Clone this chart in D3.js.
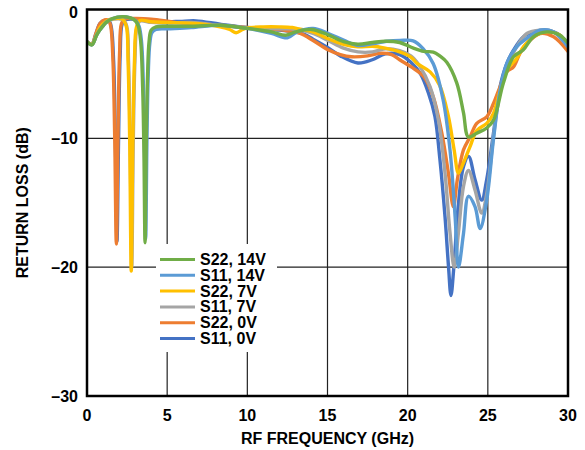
<!DOCTYPE html>
<html>
<head>
<meta charset="utf-8">
<script src="https://cdn.jsdelivr.net/npm/d3@7"></script>
<style>
  body { margin: 0; background: #fff; }
  text { font-family: "Liberation Sans", Arial, sans-serif; font-weight: bold; fill: #000; }
</style>
</head>
<body>
<script>
// Series data: [frequency GHz, return loss dB]
var s11_0V = [[0,-2.5],[0.3,-2.7],[0.55,-1.9],[0.8,-1.1],[1.1,-0.85],[1.38,-0.9],[1.52,-1.4],[1.66,-4],[1.77,-10],[1.87,-18.0],[1.97,-10],[2.07,-3.5],[2.2,-1.1],[2.4,-0.8],[3,-0.75],[4,-0.8],[5,-0.95],[5.8,-0.92],[6.8,-0.88],[8.3,-1.14],[10,-1.4],[11,-1.5],[12,-1.6],[12.7,-1.7],[13.3,-1.8],[14.1,-2.3],[15,-2.95],[15.8,-3.6],[16.9,-4.15],[17.8,-3.9],[18.6,-3.45],[19.5,-3.5],[20.2,-4.1],[20.8,-5.0],[21.3,-6.5],[21.7,-8.3],[22.0,-11.5],[22.33,-16.1],[22.55,-20],[22.7,-22.2],[22.88,-20],[23.15,-15.3],[23.48,-12.2],[23.8,-11.4],[24.2,-13.2],[24.62,-14.8],[24.93,-13.2],[25.35,-9.6],[25.76,-6.0],[26.18,-4.2],[26.6,-3.16],[27.22,-2.12],[27.84,-1.74],[28.68,-1.6],[29.5,-2.0],[30,-3.0]];
var s22_0V = [[0,-2.5],[0.3,-2.7],[0.55,-1.9],[0.8,-1.1],[1.1,-0.8],[1.35,-0.85],[1.48,-1.3],[1.62,-4],[1.73,-10],[1.83,-18.2],[1.93,-10],[2.03,-3.5],[2.15,-1.1],[2.35,-0.75],[3,-0.7],[4,-0.75],[5,-0.9],[5.8,-1.04],[7,-1.12],[8.3,-1.22],[10,-1.4],[11,-1.5],[12,-1.55],[12.7,-1.7],[13.3,-1.86],[14.1,-2.4],[15,-3.1],[15.8,-3.5],[16.5,-3.67],[17.5,-3.6],[18.3,-3.4],[19.0,-3.5],[19.5,-3.9],[20.4,-4.6],[21.0,-5.2],[21.6,-6.8],[22.13,-9.6],[22.54,-12.7],[22.85,-15.3],[23.1,-13.2],[23.48,-10.9],[23.89,-9.9],[24.31,-8.84],[24.93,-8.33],[25.35,-7.3],[25.76,-6.0],[26.18,-4.84],[26.6,-4.45],[27.0,-3.41],[27.43,-2.64],[28.26,-1.86],[29.1,-2.12],[30,-3.26]];
var s11_7V = [[0,-2.5],[0.3,-2.7],[0.6,-1.95],[0.8,-1.45],[1.2,-0.95],[1.7,-0.75],[2.25,-0.8],[2.48,-1.3],[2.59,-4],[2.69,-10],[2.79,-20.0],[2.89,-10],[2.99,-4],[3.11,-1.4],[3.3,-0.9],[4,-1.0],[5,-1.05],[6.5,-1.0],[8.3,-1.25],[10,-1.42],[11,-1.45],[12,-1.5],[12.7,-1.5],[13.3,-1.6],[14.1,-1.86],[15,-2.38],[16,-3.0],[16.9,-3.29],[17.8,-3.29],[18.6,-3.05],[19.5,-3.2],[20.2,-3.6],[20.7,-4.3],[21.4,-6.0],[21.92,-8.6],[22.33,-12.7],[22.64,-17.3],[22.9,-20.0],[23.17,-17.3],[23.48,-13.75],[23.79,-12.5],[24.2,-14.0],[24.62,-15.8],[24.93,-14.3],[25.35,-9.9],[25.76,-6.3],[26.18,-4.45],[26.8,-2.9],[27.43,-1.86],[28.26,-1.6],[29.1,-1.74],[30,-2.9]];
var s22_7V = [[0,-2.5],[0.3,-2.7],[0.6,-1.95],[0.8,-1.4],[1.2,-0.9],[1.7,-0.7],[2.2,-0.75],[2.45,-1.3],[2.56,-4],[2.66,-10],[2.76,-20.3],[2.86,-10],[2.96,-4],[3.08,-1.4],[3.3,-0.85],[4,-0.95],[5,-1.0],[7,-1.1],[8.3,-1.35],[8.9,-1.55],[9.3,-1.8],[9.7,-1.55],[10,-1.42],[11,-1.35],[12,-1.35],[12.8,-1.4],[13.3,-1.53],[14.1,-1.74],[15,-2.25],[16,-2.7],[16.9,-2.9],[17.8,-2.85],[18.6,-3.0],[19.5,-3.29],[20.2,-3.7],[20.6,-4.2],[21.4,-4.84],[22.0,-5.9],[22.54,-8.3],[22.9,-10.9],[23.17,-12.7],[23.48,-11.9],[23.89,-10.65],[24.31,-9.4],[24.93,-8.84],[25.35,-8.06],[25.76,-6.26],[26.18,-4.7],[26.8,-3.8],[27.22,-2.9],[27.84,-2.12],[28.68,-1.74],[29.5,-2.0],[30,-2.9]];
var s11_14V = [[0,-2.5],[0.3,-2.75],[0.6,-2.0],[0.8,-1.6],[1.2,-1.0],[1.6,-0.7],[2.2,-0.55],[2.7,-0.65],[3.05,-0.9],[3.25,-1.3],[3.4,-2.5],[3.52,-6],[3.59,-11],[3.66,-17.8],[3.74,-10],[3.82,-5],[3.92,-2.6],[4.05,-1.8],[4.3,-1.55],[5,-1.5],[6.5,-1.4],[8.3,-1.22],[10,-1.47],[11.5,-1.86],[12.5,-2.2],[13.1,-1.74],[14.1,-1.47],[15.05,-1.86],[16.0,-2.38],[16.9,-2.8],[17.86,-2.64],[18.7,-2.46],[19.53,-2.4],[20.34,-2.43],[20.96,-3.03],[21.59,-4.19],[22.21,-7.0],[22.64,-10.9],[22.96,-16.1],[23.17,-20.0],[23.48,-17.4],[23.79,-14.5],[24.2,-15.3],[24.52,-17.0],[24.93,-14.8],[25.35,-10.1],[25.76,-6.3],[26.18,-4.2],[26.8,-2.9],[27.43,-2.25],[28.26,-1.6],[29.1,-1.74],[30,-2.9]];
var s22_14V = [[0,-2.5],[0.3,-2.75],[0.6,-2.0],[0.8,-1.6],[1.2,-1.0],[1.6,-0.7],[2.2,-0.55],[2.7,-0.65],[3.0,-0.85],[3.2,-1.3],[3.35,-2.5],[3.47,-6],[3.55,-11],[3.62,-18.1],[3.7,-10],[3.78,-5],[3.87,-2.5],[4.0,-1.6],[4.3,-1.35],[5,-1.3],[6.5,-1.3],[8.3,-1.22],[10,-1.47],[11.5,-1.74],[12.4,-2.0],[13.0,-1.74],[14.0,-1.55],[15,-1.95],[16,-2.5],[16.9,-2.7],[17.8,-2.56],[18.6,-2.46],[19.5,-2.56],[20.36,-3.0],[21.0,-3.25],[21.6,-3.3],[22.0,-3.6],[22.44,-4.1],[23.06,-5.7],[23.48,-8.0],[23.79,-9.9],[24.31,-9.6],[24.93,-9.2],[25.35,-8.6],[25.97,-5.7],[26.6,-3.67],[27.2,-3.15],[27.84,-2.12],[28.68,-1.74],[29.5,-2.0],[30,-2.64]];

// Legend order (top to bottom) and colours
var seriesNames = ["S22, 14V", "S11, 14V", "S22, 7V", "S11, 7V", "S22, 0V", "S11, 0V"];
var seriesColors = ["#70ad47", "#5b9bd5", "#ffc000", "#a5a5a5", "#ed7d31", "#4472c4"];
var seriesData = [s22_14V, s11_14V, s22_7V, s11_7V, s22_0V, s11_0V];

var xTicks = [0, 5, 10, 15, 20, 25, 30];
var yTicks = [0, -10, -20, -30];

var width = 585, height = 450;
var margin = {top: 9.5, right: 17, bottom: 54, left: 87};

var svg = d3.select("body").append("svg")
    .attr("width", width)
    .attr("height", height);

var x = d3.scaleLinear().domain([0, 30]).range([margin.left, width - margin.right]);
var y = d3.scaleLinear().domain([-30, 0]).range([height - margin.bottom, margin.top]);

var dash = function(v) { return String(v).replace("-", "\u2013"); };

// Grid lines
svg.append("g")
    .selectAll("line")
    .data(xTicks)
    .enter().append("line")
    .attr("x1", d => x(d)).attr("x2", d => x(d))
    .attr("y1", y(0)).attr("y2", y(-30))
    .attr("stroke", "#222").attr("stroke-width", 1.2);

svg.append("g")
    .selectAll("line")
    .data(yTicks)
    .enter().append("line")
    .attr("x1", x(0)).attr("x2", x(30))
    .attr("y1", d => y(d)).attr("y2", d => y(d))
    .attr("stroke", "#222").attr("stroke-width", 1.2);

// Clip the curves to the plot
svg.append("clipPath").attr("id", "plot")
  .append("rect")
    .attr("x", x(0)).attr("y", y(0))
    .attr("width", x(30) - x(0)).attr("height", y(-30) - y(0));

var line = d3.line()
    .x(d => x(d[0]))
    .y(d => y(d[1]))
    .curve(d3.curveCatmullRom.alpha(0.5));

// Draw from the bottom of the legend up so S22, 14V sits on top
svg.append("g")
    .attr("clip-path", "url(#plot)")
    .selectAll("path")
    .data(d3.range(seriesData.length).reverse())
    .enter().append("path")
    .attr("d", i => line(seriesData[i]))
    .attr("fill", "none")
    .attr("stroke", i => seriesColors[i])
    .attr("stroke-width", 3.4)
    .attr("stroke-linejoin", "round")
    .attr("stroke-linecap", "round");

// Frame
svg.append("rect")
    .attr("x", x(0)).attr("y", y(0))
    .attr("width", x(30) - x(0)).attr("height", y(-30) - y(0))
    .attr("fill", "none")
    .attr("stroke", "#000")
    .attr("stroke-width", 2.5);

// Tick labels
svg.append("g")
    .selectAll("text")
    .data(xTicks)
    .enter().append("text")
    .attr("x", d => x(d))
    .attr("y", y(-30) + 19)
    .attr("text-anchor", "middle")
    .attr("dominant-baseline", "central")
    .style("font-size", "16px")
    .text(d => d);

svg.append("g")
    .selectAll("text")
    .data(yTicks)
    .enter().append("text")
    .attr("x", x(0) - 9)
    .attr("y", d => Math.max(y(d), 12.5))
    .attr("text-anchor", "end")
    .attr("dominant-baseline", "central")
    .style("font-size", "16px")
    .text(d => dash(d));

// Axis titles
svg.append("text")
    .attr("x", (x(0) + x(30)) / 2)
    .attr("y", 438)
    .attr("text-anchor", "middle")
    .attr("dominant-baseline", "central")
    .style("font-size", "16px")
    .text("RF FREQUENCY (GHz)");

svg.append("text")
    .attr("transform", "translate(22," + ((y(0) + y(-30)) / 2) + ") rotate(-90)")
    .attr("text-anchor", "middle")
    .attr("dominant-baseline", "central")
    .style("font-size", "16px")
    .text("RETURN LOSS (dB)");

// Legend
var legend = svg.append("g").attr("transform", "translate(156,244)");
legend.append("rect")
    .attr("width", 121).attr("height", 108)
    .attr("fill", "#fff");

var item = legend.selectAll("g")
    .data(seriesNames)
    .enter().append("g")
    .attr("transform", (d, i) => "translate(0," + (15.5 + i * 15.8) + ")");

item.append("line")
    .attr("x1", 4).attr("x2", 39)
    .attr("stroke", (d, i) => seriesColors[i])
    .attr("stroke-width", 3);

item.append("text")
    .attr("x", 44)
    .attr("dominant-baseline", "central")
    .style("font-size", "16px")
    .text(d => d);
</script>
</body>
</html>
